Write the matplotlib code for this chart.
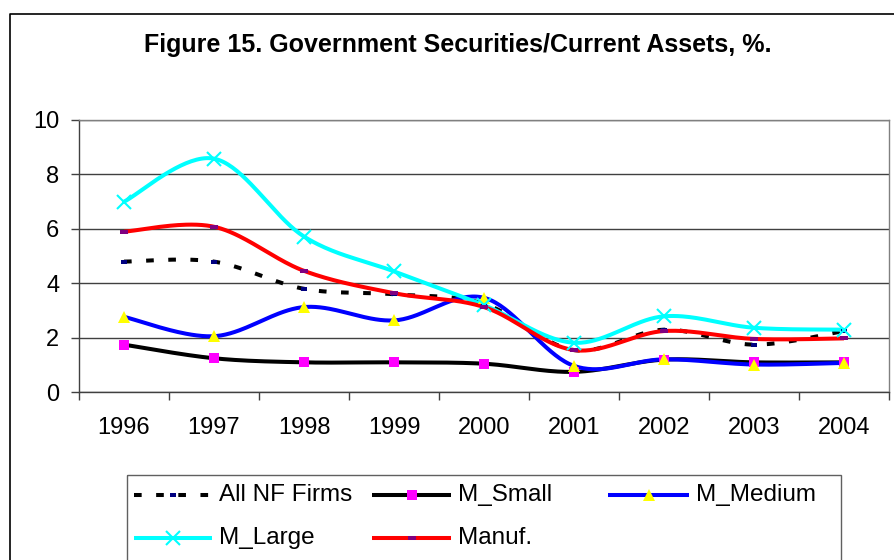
import numpy as np
import matplotlib
matplotlib.use('Agg')
import matplotlib.pyplot as plt
from matplotlib.patches import Rectangle

plt.rcParams['font.family'] = ['Liberation Sans', 'DejaVu Sans']

years = ['1996', '1997', '1998', '1999', '2000', '2001', '2002', '2003', '2004']
all_nf = [4.8, 4.8, 3.8, 3.6, 3.25, 1.55, 2.3, 1.75, 2.25]
m_small = [1.75, 1.25, 1.1, 1.1, 1.05, 0.75, 1.2, 1.1, 1.1]
m_medium = [2.77, 2.06, 3.13, 2.64, 3.47, 0.97, 1.21, 1.02, 1.08]
m_large = [7.0, 8.58, 5.72, 4.44, 3.2, 1.82, 2.79, 2.37, 2.3]
manuf = [5.9, 6.08, 4.46, 3.64, 3.13, 1.55, 2.25, 1.96, 1.98]

labels = ['All NF Firms', 'M_Small', 'M_Medium', 'M_Large', 'Manuf.']
title = 'Figure 15. Government Securities/Current Assets, %.'

rect_marker = [(-1, -0.55), (1, -0.55), (1, 0.55), (-1, 0.55), (-1, -0.55)]

styles = [
    dict(color='black', ls=(0, (1.9, 3.6)), marker=rect_marker, ms=5, mfc='#000080', mec='#000080', mew=0),
    dict(color='black', ls='-', marker='s', ms=7.8, mfc='#FF00FF', mec='#FF00FF', mew=0),
    dict(color='#0000FF', ls='-', marker='^', ms=9, mfc='#FFFF00', mec='#FFFF00', mew=0),
    dict(color='#00FFFF', ls='-', marker='x', ms=9.5, mfc='#00FFFF', mec='#00FFFF', mew=1.5),
    dict(color='#FF0000', ls='-', marker=rect_marker, ms=5.5, mfc='#800080', mec='#800080', mew=0),
]
series = [all_nf, m_small, m_medium, m_large, manuf]


def smooth(xs, ys, n=40):
    P = np.column_stack([xs, ys]).astype(float)
    out = []
    m = len(P)
    t = np.linspace(0, 1, n)[:, None]
    for i in range(m - 1):
        p0, p3 = P[i], P[i + 1]
        prev = P[i - 1] if i > 0 else P[i]
        nxt = P[i + 2] if i + 2 < m else P[i + 1]
        c1 = p0 + (p3 - prev) / 6.0
        c2 = p3 - (nxt - p0) / 6.0
        seg = ((1 - t) ** 3) * p0 + 3 * ((1 - t) ** 2) * t * c1 + 3 * (1 - t) * t ** 2 * c2 + t ** 3 * p3
        out.append(seg if i == 0 else seg[1:])
    s = np.vstack(out)
    return s[:, 0], s[:, 1]


W, H = 894, 560
fig = plt.figure(figsize=(W / 100, H / 100), dpi=100)
fig.patch.set_facecolor('white')

ax = fig.add_axes([79 / W, 1 - 392.3 / H, 810 / W, 272.3 / H])
x = np.arange(len(years))
for i, (vals, st) in enumerate(zip(series, styles)):
    sx, sy = smooth(x, vals)
    ax.plot(sx, sy, color=st['color'], ls=st['ls'], lw=2.9, solid_capstyle='butt',
            dash_capstyle='butt', zorder=2 + i * 0.1)
for i, (vals, st) in enumerate(zip(series, styles)):
    ax.plot(x, vals, ls='none', marker=st['marker'], ms=st['ms'], mfc=st['mfc'],
            mec=st['mec'], mew=st['mew'], zorder=4 + i * 0.1)

ax.set_xlim(-0.5, len(years) - 0.5)
ax.set_ylim(0, 10)
ax.set_xticks(np.arange(-0.5, len(years), 1))
ax.set_xticklabels([])
ax.set_xticks(x, minor=True)
ax.set_xticklabels(years, minor=True, fontsize=17)
ax.tick_params(axis='x', which='major', length=5.8, width=1, color='#404040', direction='out')
ax.tick_params(axis='x', which='minor', length=0, pad=17.5)
ax.set_yticks(np.arange(0, 11, 2))
ax.set_yticklabels([str(v) for v in range(0, 11, 2)], fontsize=17)
ax.tick_params(axis='y', length=5.8, width=1, color='#404040', direction='out', pad=8.5)
ax.yaxis.grid(True, color='#404040', lw=1, zorder=1)
ax.set_axisbelow(True)
for side in ['left', 'bottom']:
    ax.spines[side].set_color('#404040')
    ax.spines[side].set_linewidth(1)
for side in ['top', 'right']:
    ax.spines[side].set_color('#808080')
    ax.spines[side].set_linewidth(1)

# overlay axes in pixel coordinates for border, title and legend
ov = fig.add_axes([0, 0, 1, 1], facecolor='none')
ov.set_xlim(0, W)
ov.set_ylim(H, 0)
ov.axis('off')
ov.plot([9.5, 9.5, W + 5], [H + 5, 13.5, 13.5], color='black', lw=1.2)
ov.text(458, 45, title, ha='center', va='center', fontsize=18, fontweight='bold')

ov.add_patch(Rectangle((126.5, 474.5), 714, 90, fill=False, ec='#606060', lw=1))
hx = [(134, 212), (372, 451), (608, 689), (134, 212), (372, 451)]
hy = [495, 495, 495, 538, 538]
for (x0, x1), yy, lab, st in zip(hx, hy, labels, styles):
    ov.plot([x0, x1], [yy, yy], color=st['color'], ls=st['ls'], lw=2.9,
            solid_capstyle='butt', dash_capstyle='butt')
    ov.plot([(x0 + x1) / 2], [yy], ls='none', marker=st['marker'], ms=st['ms'],
            mfc=st['mfc'], mec=st['mec'], mew=st['mew'])
    ov.text(x1 + 7, yy, lab, ha='left', va='center', fontsize=17.5)

fig.savefig('out.png', dpi=100)
